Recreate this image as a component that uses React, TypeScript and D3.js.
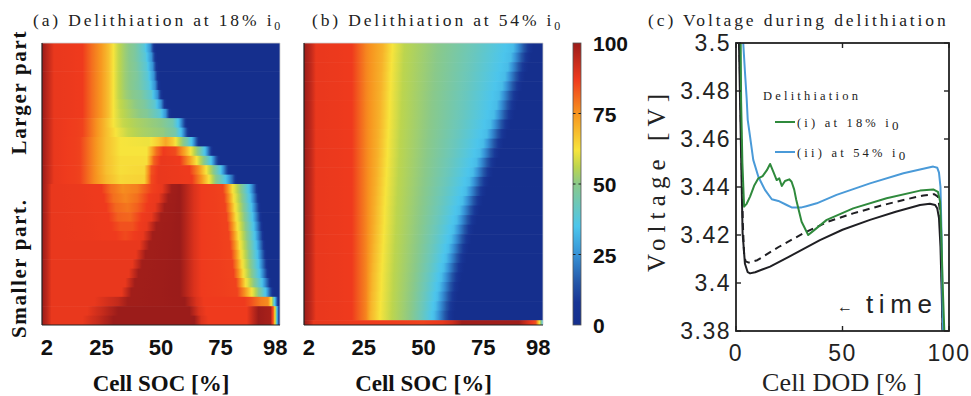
import React from "react";
import * as d3 from "d3";

const W = 971;
const H = 396;
const SERIF = "'Liberation Serif', 'Times New Roman', serif";
const SANS = "'Liberation Sans', Arial, Helvetica, sans-serif";

// ---- colormap (jet-like, as in the figure) ----
const jetLevels = [0, 8, 15, 25, 35, 50, 56, 62, 75, 87, 100];
const jetColors = ["#152f8d", "#173595", "#2456a8", "#3692d6", "#4cc6ec", "#8ac98a", "#bcd54e", "#f7e43c", "#f7941f", "#ef3a1d", "#9b1c1a"];

const socTicks = [2, 25, 50, 75, 98];
const colorbarTicks = [0, 25, 50, 75, 100];

// ---- panel (a): each row = [SOC %, normalized value %] stops, top row = largest particle ----
const upA = [[0, 100], [3, 93], [5, 88], [17, 87], [21, 80], [25, 74], [28, 68], [30, 62]];
const rowsA: number[][][] = [
  [...upA, [32, 57], [35, 52], [39, 47], [43, 38], [45.5, 25], [47, 8], [48, 0], [100, 0]],
  [...upA, [32, 57], [35, 52], [39, 47], [43.5, 38], [46, 25], [47.5, 8], [48.5, 0], [100, 0]],
  [...upA, [32, 57], [35, 52], [39.5, 47], [44, 38], [46.5, 25], [48, 8], [49, 0], [100, 0]],
  [...upA, [32, 57], [35, 52], [40, 47], [44.5, 38], [47, 25], [48.5, 8], [49.5, 0], [100, 0]],
  [...upA, [32, 57], [35, 52], [40.5, 46], [45, 38], [47.5, 25], [49, 8], [50, 0], [100, 0]],
  [...upA, [32, 57], [35.5, 52], [41.5, 47], [46, 39], [48.5, 25], [50, 8], [51, 0], [100, 0]],
  [...upA, [32.5, 57], [36.5, 53], [43, 47], [47.5, 39], [50, 25], [51.5, 8], [52.5, 0], [100, 0]],
  [...upA, [33, 57], [37.5, 53], [44, 48], [49.5, 39], [52, 25], [53.5, 8], [54.5, 0], [100, 0]],
  [[0, 100], [3, 93], [5, 88], [17, 86], [22, 77], [26, 70], [30, 62], [34, 57], [40, 54], [50, 50], [55, 44], [57.5, 33], [59.5, 15], [61, 0], [100, 0]],
  [[0, 100], [3, 93], [5, 88], [17, 86], [22, 77], [26, 70], [31, 62], [36, 57], [42, 54], [51, 51], [56, 45], [58.5, 33], [60.5, 15], [62, 0], [100, 0]],
  [[0, 100], [3, 93], [5, 88], [16, 86], [22, 76], [27, 68], [33, 62], [45, 61], [49, 66], [52, 72], [55, 66], [58, 55], [61, 44], [63, 33], [65, 14], [66.5, 0], [100, 0]],
  [[0, 100], [3, 93], [5, 88], [16, 86], [22, 76], [27, 68], [33, 62], [44, 62], [48, 80], [51, 87], [56, 85], [60, 72], [63, 60], [66, 48], [68.5, 34], [70.5, 14], [72, 0], [100, 0]],
  [[0, 100], [3, 93], [5, 88], [16, 86], [22, 76], [27, 68], [33, 63], [44, 63], [47, 82], [50, 88], [58, 87], [62, 74], [65, 62], [68, 50], [71, 35], [73, 16], [75, 0], [100, 0]],
  [[0, 100], [3, 93], [5, 88], [16, 86], [22, 76], [27, 68], [33, 63], [43, 64], [46, 84], [49, 88], [62, 87], [66, 75], [69, 62], [72, 50], [75, 36], [77, 18], [79, 0], [100, 0]],
  [[0, 100], [3, 93], [5, 88], [16, 86], [22, 76], [27, 69], [33, 64], [43, 65], [46, 85], [49, 88], [63, 87], [67, 75], [70, 63], [73, 50], [77, 36], [80, 18], [82, 0], [100, 0]],
  [[0, 100], [2, 95], [4, 88], [25, 87], [29, 80], [34, 76], [40, 78], [46, 86], [50.5, 88], [54.5, 99], [58, 100], [64, 90], [67, 87], [76, 86], [78, 76], [80, 63], [83.5, 50], [87, 34], [89.5, 14], [91, 0], [100, 0]],
  [[0, 100], [2, 95], [4, 88], [26, 87], [30, 80], [35, 77], [40, 80], [45, 87], [49, 88], [53, 99], [58, 100], [64, 90], [67, 87], [76.5, 86], [78.5, 76], [80.5, 63], [84, 50], [87.5, 34], [90, 14], [91.5, 0], [100, 0]],
  [[0, 100], [2, 95], [4, 88], [27, 87], [31, 81], [36, 79], [40, 82], [44, 87], [47.5, 88], [51.5, 99], [58, 100], [64, 90], [67, 87], [77, 86], [79, 76], [81, 63], [84.5, 50], [88, 34], [90.5, 14], [92, 0], [100, 0]],
  [[0, 100], [2, 95], [4, 88], [28, 87], [32, 82], [37, 81], [42, 87], [46, 88], [50, 99], [58, 100], [64, 90], [67, 87], [77.5, 86], [79.5, 76], [81.5, 63], [85, 50], [88.5, 34], [91, 14], [92.5, 0], [100, 0]],
  [[0, 100], [2, 95], [4, 88], [29, 87], [33, 84], [38, 84], [41, 87], [44, 88], [48, 99], [58, 100], [64, 90], [67, 87], [78, 86], [80, 76], [82, 63], [85.5, 50], [89, 34], [91.5, 14], [93, 0], [100, 0]],
  [[0, 100], [2, 95], [4, 88], [31, 87], [35, 85], [39, 87], [42.5, 88], [46.5, 99], [58, 100], [64, 90], [67, 87], [78.5, 86], [80.5, 76], [82.5, 63], [86, 50], [89.5, 34], [92, 14], [93.5, 0], [100, 0]],
  [[0, 100], [2, 95], [4, 88], [41, 88], [45, 99], [58, 100], [64, 90], [67, 87], [79, 86], [81, 76], [83, 63], [86.5, 50], [90, 34], [92.5, 14], [94, 0], [100, 0]],
  [[0, 100], [2, 95], [4, 88], [39.5, 88], [43.5, 99], [58, 100], [64, 90], [67, 87], [79.5, 86], [81.5, 76], [83.5, 63], [87, 50], [90.5, 34], [93, 14], [94.5, 0], [100, 0]],
  [[0, 100], [2, 95], [4, 88], [38, 88], [42, 99], [58, 100], [64, 90], [67, 87], [80, 86], [82, 76], [84, 63], [87.5, 50], [91, 34], [93.5, 14], [95, 0], [100, 0]],
  [[0, 100], [2, 95], [4, 88], [36.5, 88], [40.5, 99], [58, 100], [64, 90], [67, 87], [80.5, 86], [82.5, 76], [84.5, 63], [88, 50], [91.5, 34], [94, 14], [95.5, 0], [100, 0]],
  [[0, 100], [2, 95], [4, 88], [35, 88], [39, 99], [58, 100], [64, 90], [67, 87], [81.5, 86], [83.5, 76], [85.5, 63], [89, 50], [92.5, 34], [95, 14], [96.5, 0], [100, 0]],
  [[0, 100], [2, 95], [4, 88], [33.5, 88], [37.5, 99], [58, 100], [64, 90], [67, 87], [82, 86], [85, 76], [88, 63], [91, 50], [94, 34], [96, 14], [97.5, 0], [100, 0]],
  [[0, 100], [2, 95], [4, 88], [22, 88], [32, 94], [36, 99], [60, 100], [65, 90], [68, 87], [85, 87], [88, 84], [92, 78], [95, 76], [96.5, 60], [97.5, 40], [98.5, 20], [99.5, 0], [100, 0]],
  [[0, 100], [2, 95], [4, 88], [19, 88], [26, 94], [32, 100], [62, 100], [66, 90], [69, 87], [86, 87], [89, 95], [91, 100], [96, 98], [97.3, 80], [98, 60], [98.7, 35], [99.3, 15], [100, 5]],
  [[0, 100], [2, 95], [4, 88], [17, 88], [24, 94], [30, 100], [64, 100], [67, 90], [70, 87], [86, 87], [89, 95], [91, 100], [96, 98], [97.3, 80], [98, 60], [98.7, 35], [99.3, 15], [100, 5]],
];
const weightsA = rowsA.map(() => 1);

// ---- panel (b): common lead-in, then SOC where each level is reached, row by row ----
const leadB = [[0, 100], [3, 94], [5, 88], [20, 87], [26, 77]];
const levelsB = [70, 62, 56, 50, 42, 33, 15, 0];
const crossB = [
  [33, 37, 42, 56, 71.8, 87.5, 92, 96],
  [32.8, 36.8, 41.8, 55.6, 71.1, 86.5, 91, 95],
  [32.6, 36.6, 41.6, 55.2, 70.3, 85.3, 89.8, 93.8],
  [32.4, 36.4, 41.4, 54.8, 69.5, 84.1, 88.6, 92.6],
  [32.3, 36.3, 41.3, 54.4, 68.7, 82.9, 87.4, 91.4],
  [32.1, 36.1, 41.1, 53.9, 67.8, 81.6, 86.1, 90.1],
  [31.9, 35.9, 40.9, 53.5, 67.1, 80.6, 85.1, 89.1],
  [31.7, 35.7, 40.7, 53.1, 66.3, 79.5, 84, 88],
  [31.5, 35.5, 40.5, 52.7, 65.4, 78, 82.5, 86.5],
  [31.3, 35.3, 40.3, 52.3, 64.4, 76.5, 81, 85],
  [31.1, 35.1, 40.1, 51.9, 63.5, 75, 79.5, 83.5],
  [31, 35, 40, 51.5, 62.6, 73.6, 78.1, 82.1],
  [30.8, 34.8, 39.8, 51.1, 61.6, 72.1, 76.6, 80.6],
  [30.6, 34.6, 39.6, 50.7, 60.7, 70.7, 75.2, 79.2],
  [30.4, 34.4, 39.4, 50.3, 59.8, 69.2, 73.7, 77.7],
  [30.2, 34.2, 39.2, 49.8, 58.8, 67.8, 72.3, 76.3],
  [30, 34, 39, 49.4, 57.9, 66.4, 70.9, 74.9],
  [29.8, 33.8, 38.8, 49, 57.1, 65.1, 69.6, 73.6],
  [29.7, 33.7, 38.7, 48.6, 56.3, 63.9, 68.4, 72.4],
  [29.5, 33.5, 38.5, 48.2, 55.5, 62.7, 67.2, 71.2],
  [29.3, 33.3, 38.3, 47.8, 54.7, 61.6, 66.1, 70.1],
  [29.1, 33.1, 38.1, 47.4, 54, 60.5, 65, 69],
  [28.9, 32.9, 37.9, 47, 53.3, 59.5, 64, 68],
  [28.7, 32.7, 37.7, 46.6, 52.6, 58.5, 63, 67],
  [28.5, 32.5, 37.5, 46.1, 51.8, 57.5, 62, 66],
  [28.4, 32.4, 37.4, 45.7, 51.2, 56.7, 61.2, 65.2],
  [28.2, 32.2, 37.2, 45.3, 50.6, 55.9, 60.4, 64.4],
  [28, 32, 37, 44.9, 50, 55.1, 59.6, 63.6],
  [27.8, 31.8, 36.8, 44.5, 49.5, 54.5, 59, 63],
];
const smallestRowB = [[0, 100], [2, 95], [4, 88], [50, 86], [58, 88], [62, 92], [66, 99], [90, 99], [94, 90], [97, 84], [98.5, 62], [100, 35]];
const rowsB: number[][][] = [
  ...crossB.map((c) => [...leadB, ...c.map((s, k) => [s, levelsB[k]]), [100, 0]]),
  smallestRowB,
];
const weightsB = [...crossB.map(() => 1), 0.5];

// ---- panel (c): voltage vs DOD ----
const dodTicks = [0, 50, 100];
const voltTicks = [3.38, 3.4, 3.42, 3.44, 3.46, 3.48, 3.5];

const blackDod = [1.0, 1.4, 1.9, 3.1, 4.2, 5.5, 6.6, 9, 12, 16, 25, 39.4, 50, 62.9, 75, 86.4, 91, 93.5, 94.5, 95.3, 96, 96.6, 97.2];
const blackV = [3.52, 3.5, 3.476, 3.4208, 3.408, 3.4045, 3.404, 3.4045, 3.4055, 3.4068, 3.411, 3.4179, 3.4222, 3.4263, 3.4297, 3.4325, 3.433, 3.4325, 3.431, 3.427, 3.415, 3.395, 3.37];

const dashDod = [1.2, 1.6, 2.1, 3.2, 3.8, 4.5, 6, 10, 20, 31.6, 43, 55, 67, 78.6, 88, 93, 94.8, 95.8, 96.5, 97.2];
const dashV = [3.52, 3.5, 3.476, 3.425, 3.412, 3.409, 3.4085, 3.4095, 3.415, 3.4207, 3.4255, 3.429, 3.432, 3.4346, 3.4365, 3.437, 3.436, 3.43, 3.41, 3.37];

const greenDod = [1.8, 2.2, 2.4, 3.0, 3.8, 5, 6.6, 8.5, 10.5, 12.5, 14.5, 16, 17.5, 19.1, 20.3, 21.5, 23, 25, 26.1, 27.3, 28.3, 30.8, 33.9, 36, 42.6, 55, 70.7, 86.4, 92.6, 94.8, 95.8, 96.4, 97, 97.6, 98.2];
const greenV = [3.52, 3.5, 3.476, 3.45, 3.4318, 3.433, 3.436, 3.4405, 3.4436, 3.4445, 3.447, 3.4496, 3.4464, 3.4429, 3.4436, 3.4404, 3.4425, 3.4432, 3.4422, 3.439, 3.4346, 3.4255, 3.42, 3.4215, 3.4263, 3.4311, 3.4353, 3.4385, 3.439, 3.438, 3.434, 3.42, 3.4, 3.385, 3.37];

const blueDod = [3.0, 3.4, 4.2, 5, 5.5, 6.6, 8.1, 10.5, 13.6, 16.8, 19.9, 23.8, 26.1, 30.8, 33, 37.9, 47.2, 62.9, 78.6, 92.6, 94.5, 95.3, 96, 96.5, 97, 97.5];
const blueV = [3.52, 3.5, 3.488, 3.477, 3.468, 3.461, 3.4513, 3.4443, 3.4388, 3.4349, 3.4342, 3.4325, 3.4315, 3.4315, 3.432, 3.4332, 3.4367, 3.4415, 3.4457, 3.4485, 3.448, 3.446, 3.44, 3.42, 3.39, 3.37];

const colorScale = d3.scaleLinear<string>().domain(jetLevels).range(jetColors).interpolate(d3.interpolateRgb).clamp(true);

function expandStops(stops: number[][]) {
  const out: { off: number; color: string }[] = [];
  const n = 5;
  for (let i = 0; i < stops.length - 1; i++) {
    const [s0, v0] = stops[i];
    const [s1, v1] = stops[i + 1];
    for (let k = 0; k < n; k++) {
      const t = k / n;
      out.push({ off: (s0 + (s1 - s0) * t) / 100, color: colorScale(v0 + (v1 - v0) * t) });
    }
  }
  const last = stops[stops.length - 1];
  out.push({ off: last[0] / 100, color: colorScale(last[1]) });
  return out;
}

function Heatmap({ id, x0, x1, y0, y1, rows, weights }: any) {
  const x = d3.scaleLinear().domain([0, 100]).range([x0, x1]);
  const total = d3.sum(weights as number[]);
  const y = d3.scaleLinear().domain([0, total]).range([y0, y1]);
  const cum = Array.from(d3.cumsum(weights as number[]));
  return (
    <g>
      <defs>
        {rows.map((stops: number[][], i: number) => (
          <linearGradient key={i} id={`${id}-${i}`} x1="0" x2="1" y1="0" y2="0">
            {expandStops(stops).map((s, k) => (
              <stop key={k} offset={s.off} stopColor={s.color} />
            ))}
          </linearGradient>
        ))}
      </defs>
      {rows.map((_: any, i: number) => {
        const top = y(i === 0 ? 0 : cum[i - 1]);
        const bot = y(cum[i]);
        const extra = i < rows.length - 1 ? 0.6 : 0;
        return <rect key={i} x={x(0)} width={x(100) - x(0)} y={top} height={bot - top + extra} fill={`url(#${id}-${i})`} />;
      })}
      <line x1={x0} x2={x1} y1={y0} y2={y0} stroke="#cfcfcf" strokeWidth={0.8} />
      <line x1={x1} x2={x1} y1={y0} y2={y1} stroke="#cfcfcf" strokeWidth={0.8} />
      <line x1={x0} x2={x0} y1={y0} y2={y1} stroke="#222" strokeWidth={1.2} />
      <line x1={x0} x2={x1} y1={y1} y2={y1} stroke="#222" strokeWidth={1.2} />
      {socTicks.map((t) => (
        <text key={t} x={x(t)} y={355} textAnchor="middle" fontFamily={SANS} fontWeight="bold" fontSize={22} fill="#111">
          {t}
        </text>
      ))}
      <text x={(x0 + x1) / 2} y={391} textAnchor="middle" fontFamily={SERIF} fontWeight="bold" fontSize={23} fill="#111">
        Cell SOC [%]
      </text>
    </g>
  );
}

function Title({ x, text }: { x: number; text: string }) {
  return (
    <text x={x} y={26} fontFamily={SERIF} fontSize={17.5} letterSpacing={2.85} fill="#222">
      {text}
      <tspan>i</tspan>
      <tspan dy={3.5} fontSize={12}>0</tspan>
    </text>
  );
}

export default function App() {
  // panel geometry
  const A = { x0: 42, x1: 280, y0: 43, y1: 325 };
  const B = { x0: 304, x1: 543, y0: 43, y1: 325 };
  const C = { x0: 736, x1: 949, y0: 43, y1: 331 };

  const cb = { x0: 573, x1: 581, y0: 43, y1: 325 };
  const cbY = d3.scaleLinear().domain([0, 100]).range([cb.y1, cb.y0]);

  const xC = d3.scaleLinear().domain([0, 100]).range([C.x0, C.x1]);
  const yC = d3.scaleLinear().domain([3.38, 3.5]).range([C.y1, C.y0]);
  const line = (xs: number[], ys: number[]) =>
    d3.line<number>().x((d, i) => xC(xs[i])).y((d, i) => yC(ys[i]))(xs) || "";

  const tickLen = 5;
  const frame = "#222";

  return (
    <svg width={W} height={H} viewBox={`0 0 ${W} ${H}`} style={{ position: "absolute", left: 0, top: 0, background: "#fff" }}>
      <rect x={0} y={0} width={W} height={H} fill="#fff" />
      <Title x={33} text="(a) Delithiation at 18% " />
      <Title x={312} text="(b) Delithiation at 54% " />
      <text x={648} y={26} fontFamily={SERIF} fontSize={17.5} letterSpacing={2.9} fill="#222">
        (c) Voltage during delithiation
      </text>

      <Heatmap id="ha" {...A} rows={rowsA} weights={weightsA} />
      <Heatmap id="hb" {...B} rows={rowsB} weights={weightsB} />

      {/* particle-size labels */}
      <text transform="translate(26,93) rotate(-90)" textAnchor="middle" fontFamily={SERIF} fontWeight="bold" fontSize={21} textLength={123} lengthAdjust="spacing" fill="#111">
        Larger part
      </text>
      <text transform="translate(26,269) rotate(-90)" textAnchor="middle" fontFamily={SERIF} fontWeight="bold" fontSize={21} textLength={138} lengthAdjust="spacing" fill="#111">
        Smaller part.
      </text>

      {/* colorbar */}
      <defs>
        <linearGradient id="cbgrad" x1="0" x2="0" y1="1" y2="0">
          {jetLevels.map((l, i) => (
            <stop key={i} offset={l / 100} stopColor={jetColors[i]} />
          ))}
        </linearGradient>
      </defs>
      <rect x={cb.x0} y={cb.y0} width={cb.x1 - cb.x0} height={cb.y1 - cb.y0} fill="url(#cbgrad)" stroke="#555" strokeWidth={0.8} />
      {colorbarTicks.filter((t) => t > 0 && t < 100).map((t) => (
        <g key={t}>
          <line x1={cb.x0} x2={cb.x0 + 2.5} y1={cbY(t)} y2={cbY(t)} stroke="#222" strokeWidth={1} />
          <line x1={cb.x1 - 2.5} x2={cb.x1} y1={cbY(t)} y2={cbY(t)} stroke="#222" strokeWidth={1} />
        </g>
      ))}
      {colorbarTicks.map((t) => (
        <text key={t} x={593} y={cbY(t) + 8} fontFamily={SANS} fontWeight="bold" fontSize={21} fill="#111">
          {t}
        </text>
      ))}

      {/* panel (c) */}
      <defs>
        <clipPath id="clipC">
          <rect x={C.x0} y={C.y0} width={C.x1 - C.x0} height={C.y1 - C.y0} />
        </clipPath>
      </defs>
      <g clipPath="url(#clipC)" fill="none" strokeLinejoin="round" strokeLinecap="round">
        <path d={line(blackDod, blackV)} stroke="#1f1f23" strokeWidth={2} />
        <path d={line(dashDod, dashV)} stroke="#1f1f23" strokeWidth={2} strokeDasharray="7,5" strokeLinecap="butt" />
        <path d={line(blueDod, blueV)} stroke="#4a9ad8" strokeWidth={2} />
        <path d={line(greenDod, greenV)} stroke="#2f8a3c" strokeWidth={2} />
      </g>
      <rect x={C.x0} y={C.y0} width={C.x1 - C.x0} height={C.y1 - C.y0} fill="none" stroke={frame} strokeWidth={1.8} />
      {voltTicks.map((v) => (
        <g key={v}>
          <line x1={C.x0} x2={C.x0 + tickLen} y1={yC(v)} y2={yC(v)} stroke={frame} strokeWidth={1.4} />
          <line x1={C.x1 - tickLen} x2={C.x1} y1={yC(v)} y2={yC(v)} stroke={frame} strokeWidth={1.4} />
          <text x={731} y={yC(v) + 8} textAnchor="end" fontFamily={SANS} fontSize={23} letterSpacing={1.5} fill="#222">
            {v}
          </text>
        </g>
      ))}
      {dodTicks.map((t) => (
        <g key={t}>
          <line x1={xC(t)} x2={xC(t)} y1={C.y1} y2={C.y1 - tickLen} stroke={frame} strokeWidth={1.4} />
          <line x1={xC(t)} x2={xC(t)} y1={C.y0} y2={C.y0 + tickLen} stroke={frame} strokeWidth={1.4} />
          <text x={xC(t)} y={361} textAnchor="middle" fontFamily={SANS} fontSize={23} letterSpacing={1.5} fill="#222">
            {t}
          </text>
        </g>
      ))}
      <text x={842} y={391} textAnchor="middle" fontFamily={SERIF} fontSize={26} textLength={160} lengthAdjust="spacing" fill="#222">
        Cell DOD [% ]
      </text>
      <text transform="translate(665,183) rotate(-90)" textAnchor="middle" fontFamily={SERIF} fontSize={25} textLength={178} lengthAdjust="spacing" fill="#222">
        Voltage [V]
      </text>

      {/* legend */}
      <text x={763} y={100} fontFamily={SERIF} fontSize={12.5} letterSpacing={3.2} fill="#222">
        Delithiation
      </text>
      <line x1={775} x2={795} y1={122} y2={122} stroke="#2f8a3c" strokeWidth={2} />
      <text x={797} y={126.5} fontFamily={SERIF} fontSize={12.5} letterSpacing={3.2} fill="#222">
        (i) at 18% i<tspan dy={3} fontSize={13}>0</tspan>
      </text>
      <line x1={775} x2={795} y1={152} y2={152} stroke="#4a9ad8" strokeWidth={2} />
      <text x={797} y={156.5} fontFamily={SERIF} fontSize={12.5} letterSpacing={3.2} fill="#222">
        (ii) at 54% i<tspan dy={3} fontSize={13}>0</tspan>
      </text>

      <text x={837} y={312} fontFamily={SANS} fontSize={16} fill="#222">
        ←
      </text>
      <text x={866} y={313} fontFamily={SANS} fontSize={26} textLength={66} lengthAdjust="spacing" fill="#222">
        time
      </text>
    </svg>
  );
}
